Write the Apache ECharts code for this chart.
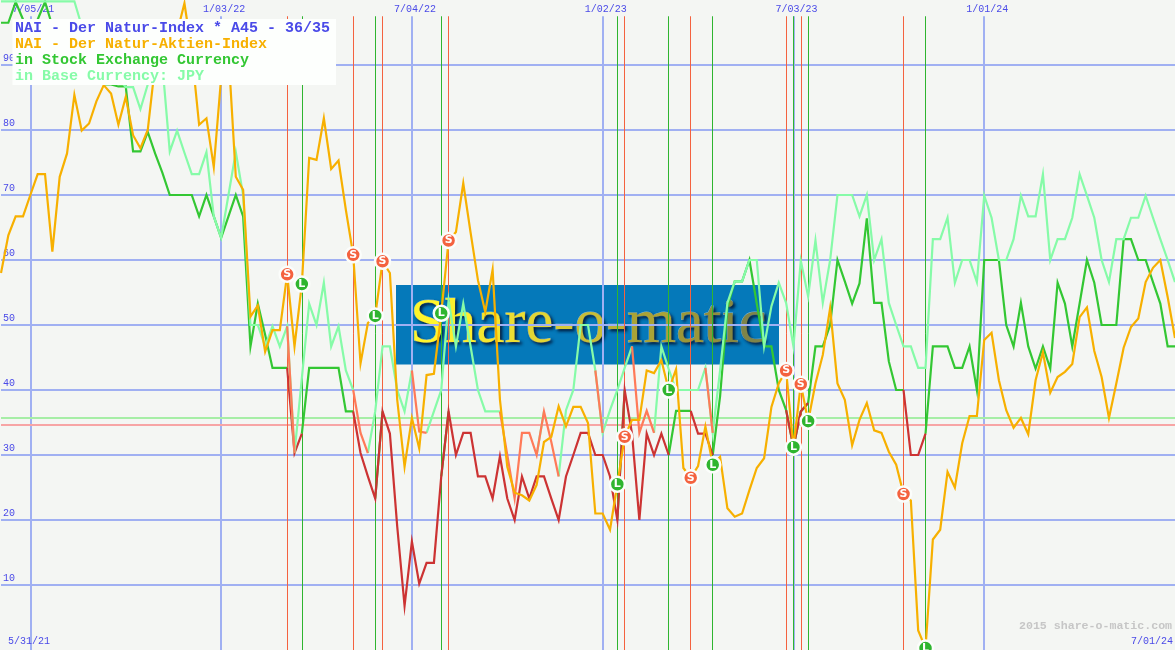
<!DOCTYPE html>
<html><head><meta charset="utf-8">
<style>html,body{margin:0;padding:0;background:#f4f6f3}#c{width:1175px;height:650px}</style>
<script src="https://cdn.jsdelivr.net/npm/echarts@6/dist/echarts.min.js"></script>
</head><body><div id="c"></div>
<script>
// Weekly dates: first plotted point 6/07/21, last 7/01/24
const firstWeek = Date.UTC(2021, 5, 7);
const weekCount = 161;
const dates = [];
for (let i = 0; i < weekCount; i++) {
  const d = new Date(firstWeek + i * 7 * 864e5);
  dates.push((d.getUTCMonth() + 1) + '/' + String(d.getUTCDate()).padStart(2, '0') + '/' + String(d.getUTCFullYear()).slice(2));
}
const gridDates = ['7/05/21', '1/03/22', '7/04/22', '1/02/23', '7/03/23', '1/01/24'];

const indexValues = [
 58,63.8,66.7,66.7,70,73.2,73.2,61.3,72.8,76.4,
 85.4,79.9,81,84.4,86.9,85.6,80.8,85.1,79.2,77.2,
 80,90,93,96,95,99.5,92,80.8,81.8,74.3,
 88,92,72.8,70.8,51.3,53,45.9,49.2,49.2,57.8,
 46.7,56.3,75.7,75.4,81.8,74,75.3,67.7,60.8,44.1,
 50.3,51.4,59.8,58,38.5,28.2,35.7,31,42.3,42.5,
 51.8,63,64.3,71.8,64.2,56.9,52,58.5,38.5,28.2,
 24.2,23.8,23,25.4,32,32.8,37.5,34.4,37.4,37.4,
 34.9,21,21,18.5,25.5,32.8,35.4,35.4,43,42.6,
 44.6,40,43.2,28,26.5,28.3,34.4,28.5,29.7,21.8,
 20.5,21,24.6,28,29.5,37.4,41,43,31.2,40.9,
 35.2,41,45.4,52.6,41,38.5,31.5,35.4,38,33.8,
 33.4,30.5,28.5,24,23,3,0.3,17,18.5,27.4,
 25,31.8,36,36,47.7,48.8,41.5,36.9,34.2,35.7,
 33.2,41.5,45.8,39.6,42,42.8,44,51.2,52.7,46,
 42,35.7,41,46.5,49.7,51,56.6,58.8,60,54.3,48];

const exchangeValues = [
 96.5,96.5,99.7,97,96,97,99.7,96,93,91,
 90,89,88,88,87,87,86.7,86.7,76.7,76.7,
 79.7,76.4,73.4,70,70,70,70,66.7,70,66.7,
 63.4,66.7,70,66.7,46.7,53.3,48.5,43.4,43.4,43.4,
 30.3,33.3,43.4,43.4,43.4,43.4,43.4,36.7,36.7,30.3,
 26.7,23.3,36.7,33.3,19,6.8,16.7,10.2,13.4,13.4,
 26.7,36.7,30,33.4,33.4,26.7,26.7,23.3,29.8,23.3,
 20,26.7,23.3,26.7,26.7,23.3,20,26.7,30,33.4,
 33.4,30,30,26.7,20,40,33.3,20,33.3,30,
 33.3,30,36.8,36.8,36.8,33.3,33.3,30,39,52.8,
 56.7,56.7,60,53.3,46.7,46.7,40,36.9,31.2,36.7,
 38,46.7,46.7,50,60,56.7,53.3,56.4,66.4,53.4,
 53.4,44.4,40,40,30,30,33.3,46.7,46.7,46.7,
 43.4,43.4,46.7,40,60,60,60,50,46.7,53.4,
 46.7,43.3,46.7,43.3,56.5,53.3,46.7,53.3,60,56.5,
 50,50,50,63.2,63.2,60,60,56.6,53.3,46.7,46.7];

const baseValues = [
 99.8,99.8,99.8,99.8,99.8,99.8,99.8,99.8,99.8,99.8,
 99.8,96,93,91,90,89,88,86.6,86.6,83.2,
 87,92,90,76.7,79.9,76.5,73.2,73.2,76.6,66.7,
 63.4,70,76.6,70,50,50,46.7,49.8,46.7,49.8,
 30.3,41.8,53.3,50,56.5,46.7,49.8,43,40,33.4,
 30.3,36.7,46.7,46.7,40,36.7,43,33.6,33.4,36.7,
 40,53.8,46.7,53.3,46.7,40,36.7,36.7,36.7,30,
 23.3,33.4,33.4,30,36.7,32,26.7,36.9,40,50,
 50,43,33.4,36.9,40,43.4,46.7,33.4,36.8,33.4,
 46.7,43.2,40,40,40,40,43.4,33.4,43,53.4,
 56.7,56.7,60,60,46.7,52.9,56.5,53.4,46.7,59.9,
 54.4,63,53.4,60,70,70,70,66.7,70,60,
 63.2,53.4,50,46.7,46.7,43.4,43.4,63.2,63.2,66.5,
 56.5,60,60,56.6,69.9,66.5,60,60,63.2,69.9,
 66.7,66.7,73.2,60,63.2,63.2,66.5,73.2,69.9,66.5,
 60,56.6,63.2,63.2,66.5,66.5,69.9,66.5,63.2,60,56.6];

// Signals, as 1-based week numbers into dates[]
const sellWeeks = [40,49,53,62,86,95,108,110,124];
const buyWeeks  = [42,52,61,85,92,98,109,111,127];
// Stretches drawn in the "out of market" colour
const exchangeOutSpans = [[40,42],[49,52],[53,61],[62,85],[86,92],[95,98],[108,109],[110,111],[124,127]];
const baseOutSpans = [[40,41],[49,51],[57,59],[69,74],[75,77],[82,83],[87,90],[97,98]];
const upperThreshold = 35.7, lowerThreshold = 34.7;

const logoLetters = ['S','h','a','r','e','-','o','-','m','a','t','i','c'];
const logoColors = ['#fff52c','#fbee2e','#f4e630','#ecde32','#e2d534','#d6ca36','#c8bd36','#bbb136','#aaa336','#9c9738','#918e3c','#878840','#7e8448'];

const TXT = '"Liberation Mono","DejaVu Sans Mono",monospace';
const C = {bg:'#f4f6f3',grid:'#a0b0f2',label:'#4a4ae8',orange:'#f7b000',green:'#33c733',mint:'#86fba8',
  red:'#cc3333',salmon:'#ff7a58',sell:'#f4623f',buy:'#2fb52f',thrG:'#a6eea6',thrR:'#f7a5a5'};

function inside(week, spans){ return spans.some(s => week > s[0] && week <= s[1]); } // segment ending at week
function split(values, spans){
  const outPart = values.map((v,i)=>{const w=i+1; return (inside(w,spans)||inside(w+1,spans))?v:null;});
  const mainPart = values.map((v,i)=>{const w=i+1; return (!inside(w,spans)||(w<weekCount&&!inside(w+1,spans)))?v:null;});
  return [mainPart,outPart];
}
const [exchMain, exchOut] = split(exchangeValues, exchangeOutSpans);
const [baseMain, baseOut] = split(baseValues, baseOutSpans);

function vline(date,color,width){
  return [{xAxis:date,yAxis:97.5,lineStyle:{color,width,type:'solid'}},{xAxis:date,yAxis:0}];
}
function hline(v,color){ return {yAxis:v,lineStyle:{color,width:2,type:'solid'}}; }
function line(name,data,color,z){
  return {name,type:'line',data,z,showSymbol:false,symbol:'none',connectNulls:false,animation:false,silent:true,
    lineStyle:{color,width:2.2,cap:'butt',join:'miter'},itemStyle:{color}};
}
function markers(name,weeks,color,letter){
  return {name,type:'scatter',z:9,symbol:'circle',symbolSize:15,animation:false,silent:true,
    data:weeks.map(w=>[dates[w-1],indexValues[w-1]]),
    itemStyle:{color,borderColor:'#fbfdfb',borderWidth:2.5,opacity:1},
    label:{show:true,position:'inside',formatter:letter,color:'#fff',fontFamily:'"DejaVu Sans",sans-serif',fontSize:11,fontWeight:'bold'}};
}
function legendRow(text,y,fill){
  return {type:'text',z:51,silent:true,x:15,y,style:{text,font:'bold 15px '+TXT,fill}};
}

const logoRich = {};
logoColors.forEach((c,i)=>{ logoRich['l'+i] = {fill:c,stroke:'rgba(220,235,235,.6)',lineWidth:.8,font:'63px "Liberation Serif",serif',
  textShadowColor:'rgba(0,20,50,.9)',textShadowBlur:3,textShadowOffsetX:2,textShadowOffsetY:2}; });

const chart = echarts.init(document.getElementById('c'),null,{renderer:'canvas'});
chart.setOption({
  animation:false,
  backgroundColor:C.bg,
  grid:{left:-0.5,right:-0.5,top:0,bottom:0,containLabel:false},
  xAxis:{type:'category',position:'top',data:dates,boundaryGap:false,
    axisLine:{show:false},axisTick:{show:false},splitLine:{show:false},
    axisLabel:{show:true,inside:true,margin:4,color:C.label,fontFamily:TXT,fontSize:10,padding:[0,0,0,6],
      interval:(i,v)=>gridDates.includes(v),hideOverlap:false}},
  yAxis:{type:'value',min:0,max:100,interval:10,
    axisLine:{show:false},axisTick:{show:false},
    splitLine:{show:true,showMinLine:false,showMaxLine:false,lineStyle:{color:C.grid,width:2}},
    axisLabel:{inside:true,margin:2,color:C.label,fontFamily:TXT,fontSize:10,verticalAlign:'bottom',
      padding:[0,0,2,0],
      formatter:v=>(v>0&&v<100)?String(v):''}},
  series:[
    {name:'Rules',type:'line',data:[],z:1,animation:false,silent:true,
      markLine:{silent:true,symbol:'none',animation:false,label:{show:false},z:1,
        data:[...gridDates.map(d=>vline(d,C.grid,2)),
              hline(upperThreshold,C.thrG),hline(lowerThreshold,C.thrR)]}},
    {name:'Signals',type:'line',data:[],z:2,animation:false,silent:true,
      markLine:{silent:true,symbol:'none',animation:false,label:{show:false},z:2,
        data:[...sellWeeks.map(w=>vline(dates[w-1],C.sell,1)),...buyWeeks.map(w=>vline(dates[w-1],C.buy,1))]}},
    line('in Stock Exchange Currency',exchMain,C.green,4),
    line('Stock Exchange Currency, out',exchOut,C.red,4),
    line('in Base Currency: JPY',baseMain,C.mint,5),
    line('Base Currency, out',baseOut,C.salmon,5),
    line('NAI - Der Natur-Aktien-Index',indexValues,C.orange,6),
    markers('Sell',sellWeeks,C.sell,'S'),
    markers('Buy',buyWeeks,C.buy,'L')
  ],
  graphic:{elements:[
    {type:'rect',z:-1,silent:true,shape:{x:396,y:285,width:383,height:79.5},style:{fill:'#0579ba'}},
    {type:'text',z:-1,silent:true,x:410,y:294,style:{
      text:logoLetters.map((ch,i)=>'{l'+i+'|'+ch+'}').join(''),rich:logoRich}},
    {type:'rect',z:50,silent:true,shape:{x:12.5,y:19,width:323.5,height:66},style:{fill:'#fdfffd'}},
    legendRow('NAI - Der Natur-Index * A45 - 36/35',21,'#4a4ae8'),
    legendRow('NAI - Der Natur-Aktien-Index',37,C.orange),
    legendRow('in Stock Exchange Currency',53,C.green),
    legendRow('in Base Currency: JPY',69,C.mint),
    {type:'text',z:20,silent:true,x:8,y:636,style:{text:'5/31/21',font:'10px '+TXT,fill:C.label}},
    {type:'text',z:20,silent:true,x:1131,y:636,style:{text:'7/01/24',font:'10px '+TXT,fill:C.label}},
    {type:'text',z:20,silent:true,x:1019,y:620,style:{text:'2015 share-o-matic.com',font:'bold 11.6px '+TXT,fill:'#c6c6c6'}}
  ]}
});
</script></body></html>
